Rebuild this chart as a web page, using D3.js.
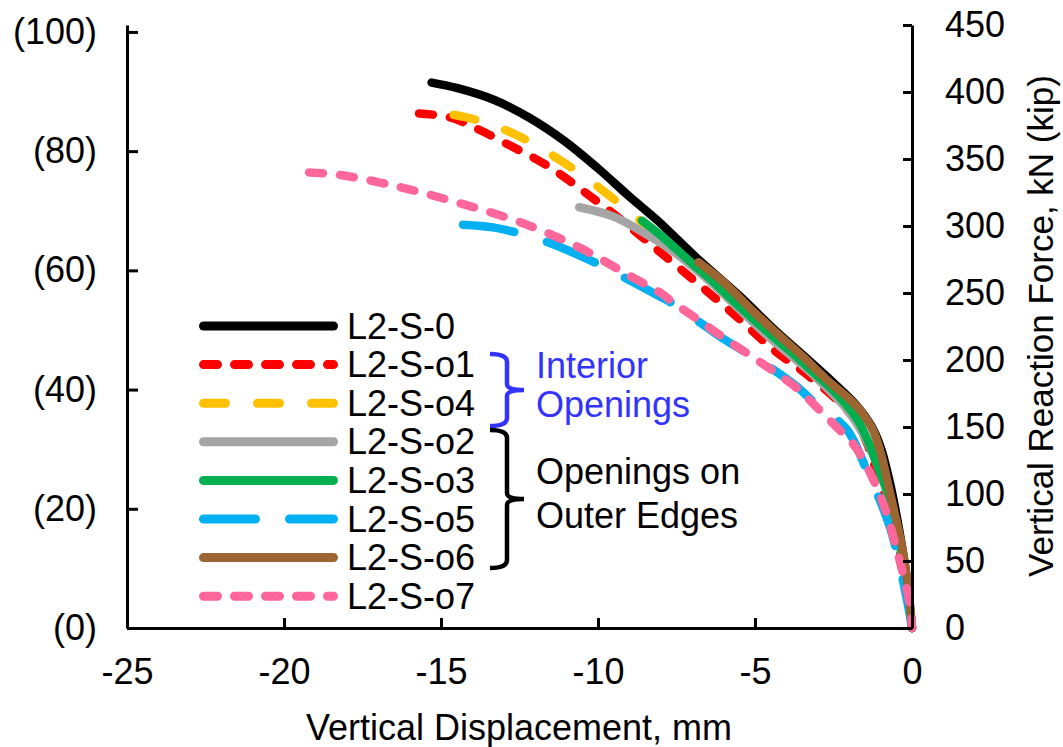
<!DOCTYPE html>
<html>
<head>
<meta charset="utf-8">
<script src="https://cdn.jsdelivr.net/npm/d3@7"></script>
<style>
  body { margin: 0; background: #fff; }
  text { font-family: "Liberation Sans", Arial, sans-serif; }
</style>
</head>
<body>
<svg width="1063" height="747"></svg>
<script>
// displacement (mm) vs vertical reaction (kN)
var s0  = [[-15.3,407],[-14.5,403],[-13.3,394],[-12.2,381],[-11.1,364],[-10.0,343],[-9.0,322],[-8.1,304],[-6.85,276],[-5.5,248],[-4.4,223],[-3.3,200],[-2.5,183],[-1.8,167],[-1.3,151],[-1.0,135],[-0.7,108],[-0.4,72],[-0.15,34],[0,0]];
var so1 = [[-15.7,384],[-14.7,381],[-13.8,372],[-12.8,360],[-11.9,349],[-11.1,337],[-10.35,324],[-9.5,309],[-8.66,293],[-8.1,282],[-7.07,262],[-5.57,232],[-4.43,208],[-3.34,189],[-2.29,168],[-1.8,155],[-1.4,136],[-1.1,114],[-0.7,85],[-0.4,58],[-0.15,28],[0,0]];
var so4 = [[-14.6,383],[-13.85,379],[-12.6,368],[-11.0,346],[-9.6,322],[-8.66,304],[-8.0,292],[-7.0,271],[-6.0,250],[-5.0,229],[-4.0,210],[-3.0,187],[-2.0,164],[-1.4,140],[-0.7,95],[-0.4,64],[-0.15,29],[0,0]];
var so2 = [[-10.6,314],[-9.5,307],[-8.4,293],[-7.6,281],[-6.5,260],[-5.5,238],[-4.6,218],[-3.15,189],[-2.07,163],[-1.43,139],[-0.7,94],[-0.4,63],[-0.15,28],[0,0]];
var so3 = [[-8.6,304],[-8.0,293],[-7.0,272],[-6.5,262],[-5.5,240],[-4.6,221],[-3.8,205],[-3.15,191],[-2.5,177],[-2.07,166],[-1.7,154],[-1.43,141],[-1.1,121],[-0.7,96],[-0.4,65],[-0.15,30],[0,0]];
var so5 = [[-14.3,301],[-13.34,299],[-12.58,295],[-11.62,288],[-10.03,272],[-9.2,262],[-8.0,247],[-7.61,242],[-6.75,228],[-6.02,216],[-5.25,205],[-4.43,193],[-3.66,180],[-3.15,169],[-2.07,148],[-1.43,117],[-0.7,75],[-0.16,21],[0,0]];
var so6 = [[-6.8,273],[-6.0,258],[-5.0,235],[-4.4,222],[-3.5,203],[-2.7,185],[-2.0,171],[-1.6,161],[-1.25,148],[-1.0,131],[-0.75,106],[-0.5,80],[-0.28,56],[-0.1,25],[0,0]];
var so7 = [[-19.2,340],[-18.2,338],[-16.3,329],[-14.4,317],[-12.5,303],[-10.6,284],[-9.0,263],[-8.0,250],[-7.61,243],[-6.75,229],[-6.02,217],[-5.25,205],[-4.43,192],[-3.66,179],[-3.0,164],[-2.4,150],[-1.8,135],[-1.0,98],[-0.48,58],[-0.06,16],[0,0]];

var names  = ['L2-S-0','L2-S-o1','L2-S-o4','L2-S-o2','L2-S-o3','L2-S-o5','L2-S-o6','L2-S-o7'];
var series = [s0, so1, so4, so2, so3, so5, so6, so7];
var colors = ['#000000','#ff0000','#ffc000','#a5a5a5','#00b050','#00b0f0','#9c6531','#ff6699'];
var dashes = [null, '14,17', '22,32', null, null, '52,34', null, '14,17'];

var xTicks   = [-25,-20,-15,-10,-5,0];
var kNTicks  = [0,50,100,150,200,250,300,350,400,450];
var kipTicks = [0,20,40,60,80,100];
var KN_PER_KIP = 4.44822;

var svg = d3.select('svg');
var x = d3.scaleLinear().domain([-25, 0]).range([127, 912]);
var y = d3.scaleLinear().domain([0, 450]).range([628, 25]);
var yKip = d3.scaleLinear().domain([0, 450 / KN_PER_KIP]).range([628, 25]);

var line = d3.line()
	.x(function(d){ return x(d[0]); })
	.y(function(d){ return y(d[1]); })
	.curve(d3.curveCatmullRom.alpha(0.5));

// curves
svg.append('g').selectAll('path.curve').data(series)
	.enter()
	.append('path')
	.attr('class', 'curve')
	.attr('d', line)
	.attr('fill', 'none')
	.attr('stroke', function(d, i){ return colors[i]; })
	.attr('stroke-width', 8.5)
	.attr('stroke-linecap', 'round')
	.attr('stroke-linejoin', 'round')
	.attr('stroke-dasharray', function(d, i){ return dashes[i]; });

// axes
function styleAxis(g) {
	g.selectAll('.domain').attr('stroke', '#000').attr('stroke-width', 3);
	g.selectAll('.tick line').attr('stroke', '#000').attr('stroke-width', 3);
	g.selectAll('.tick text').attr('fill', '#000')
		.style('font-family', '"Liberation Sans", Arial, sans-serif')
		.style('font-size', '36px');
}

svg.append('g')
	.attr('transform', 'translate(0,628)')
	.call(d3.axisBottom(x).tickValues(xTicks).tickSizeInner(-10).tickSizeOuter(0).tickPadding(30)
		.tickFormat(function(d){ return d < 0 ? '-' + Math.abs(d) : d; }))
	.call(styleAxis);

svg.append('g')
	.attr('transform', 'translate(127,0)')
	.call(d3.axisLeft(yKip).tickValues(kipTicks).tickSizeInner(-11).tickSizeOuter(0).tickPadding(30)
		.tickFormat(function(d){ return '(' + d + ')'; }))
	.call(styleAxis);

svg.append('g')
	.attr('transform', 'translate(912,0)')
	.call(d3.axisRight(y).tickValues(kNTicks).tickSizeInner(-9).tickSizeOuter(0).tickPadding(33))
	.call(styleAxis);

svg.append('text')
	.attr('x', 519).attr('y', 740)
	.attr('text-anchor', 'middle')
	.style('font-size', '36px')
	.text('Vertical Displacement, mm');

svg.append('text')
	.attr('transform', 'translate(1053,326) rotate(-90)')
	.attr('text-anchor', 'middle')
	.style('font-size', '35px')
	.text('Vertical Reaction Force, kN (kip)');

// legend
var legend = svg.append('g');
var rows = legend.selectAll('g.row').data(names)
	.enter()
	.append('g')
	.attr('class', 'row')
	.attr('transform', function(d, i){ return 'translate(0,' + (326 + i * 38.6) + ')'; });

rows.append('line')
	.attr('x1', 203.5).attr('x2', 333.5)
	.attr('stroke', function(d, i){ return colors[i]; })
	.attr('stroke-width', 9)
	.attr('stroke-linecap', 'round')
	.attr('stroke-dasharray', function(d, i){ return dashes[i]; });

rows.append('text')
	.attr('x', 347).attr('dy', '0.35em')
	.style('font-size', '36px')
	.text(function(d){ return d; });

// group brackets
function brace(top, bottom, color) {
	var mid = (top + bottom) / 2;
	svg.append('path')
		.attr('d', 'M490,' + top + ' Q507,' + top + ' 507,' + (top + 8) +
			' V' + (mid - 6) + ' Q507,' + mid + ' 524,' + mid +
			' Q507,' + mid + ' 507,' + (mid + 6) +
			' V' + (bottom - 8) + ' Q507,' + bottom + ' 490,' + bottom)
		.attr('fill', 'none')
		.attr('stroke', color)
		.attr('stroke-width', 4.5);
}
brace(354, 426, '#3333ff');
brace(430, 568, '#000000');

var notes = [
	{ t: 'Interior', y: 378, c: '#3333ff' },
	{ t: 'Openings', y: 417, c: '#3333ff' },
	{ t: 'Openings on', y: 484, c: '#000000' },
	{ t: 'Outer Edges', y: 528, c: '#000000' }
];
svg.selectAll('text.note').data(notes)
	.enter()
	.append('text')
	.attr('class', 'note')
	.attr('x', 536)
	.attr('y', function(d){ return d.y; })
	.attr('fill', function(d){ return d.c; })
	.style('font-size', '36px')
	.text(function(d){ return d.t; });
</script>
</body>
</html>
